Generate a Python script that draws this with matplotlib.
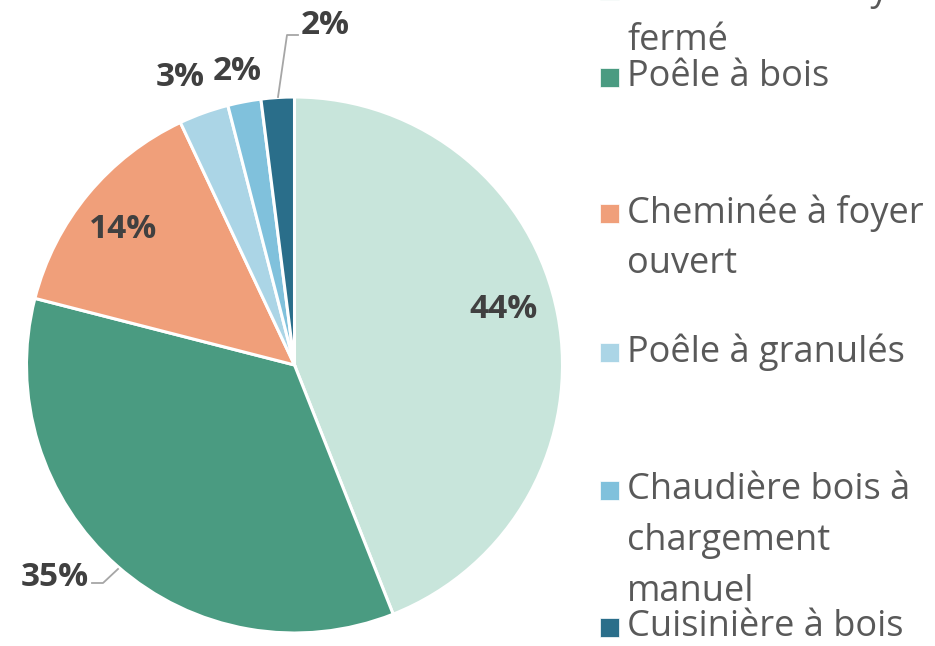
import matplotlib
matplotlib.use("Agg")
import matplotlib.pyplot as plt
from matplotlib.patches import Rectangle

plt.rcParams['font.family'] = ['Open Sans', 'DejaVu Sans']

# données
categories = ["Cheminée à foyer\nfermé", "Poêle à bois", "Cheminée à foyer\nouvert",
              "Poêle à granulés", "Chaudière bois à\nchargement\nmanuel", "Cuisinière à bois"]
values = [44, 35, 14, 3, 2, 2]
colors = ["#C8E5DB", "#4A9B81", "#F09F7A", "#ABD5E6", "#80C1DC", "#2A6E8A"]

W, H = 935, 646
fig = plt.figure(figsize=(W / 100, H / 100), dpi=100)
ax = fig.add_axes([0, 0, 1, 1])

cx, cy, r = 294.5, H - 365, 268
ax.pie(values, colors=colors, startangle=90, counterclock=False,
       center=(cx, cy), radius=r, frame=True,
       wedgeprops=dict(edgecolor='white', linewidth=2.2))
ax.set_xlim(0, W)
ax.set_ylim(0, H)
ax.set_aspect('equal')
ax.axis('off')

# étiquettes (positions en pixels depuis le haut)
label_pos = [(503, 310), (55, 578), (123, 230), (180, 78), (237, 72), (325, 26)]
for v, (x, y) in zip(values, label_pos):
    ax.text(x, H - y, f"{v}%", ha='center', va='center', fontsize=24,
            fontweight='bold', color='#404040')

# lignes de rappel
ax.plot([118, 103, 92], [H - 569, H - 583, H - 583], color='#A6A6A6', lw=1.3)
ax.plot([278, 287, 298], [H - 97, H - 35, H - 35], color='#A6A6A6', lw=1.3)

# légende
entry_y = [-10, 77, 213, 352, 490, 627]
gap = 51
for lab, col, y in zip(categories, colors, entry_y):
    ax.add_patch(Rectangle((600, H - y - 9.5), 19, 19, facecolor=col,
                           edgecolor='white', lw=0.5))
    for k, line in enumerate(lab.split("\n")):
        ax.text(627, H - (y + k * gap), line, ha='left', va='center',
                fontsize=26, color='#595959')

fig.savefig("out.png", dpi=100)
